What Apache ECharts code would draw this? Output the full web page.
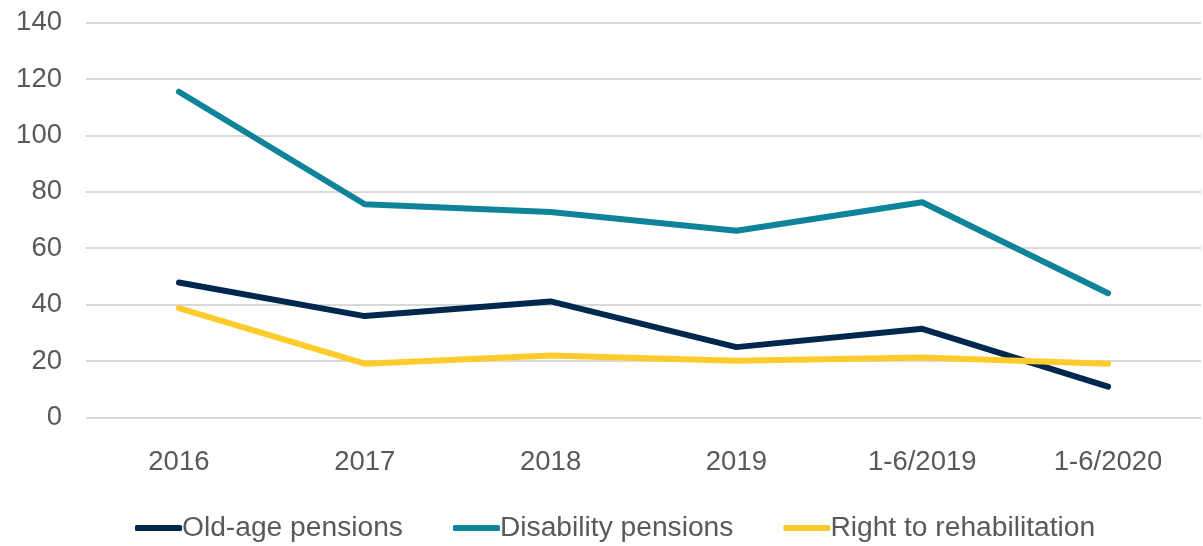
<!DOCTYPE html>
<html>
<head>
<meta charset="utf-8">
<script src="https://cdn.jsdelivr.net/npm/echarts@6/dist/echarts.min.js"></script>
<style>html,body{margin:0;padding:0;background:#fff;}#c{width:1203px;height:546px;}</style>
</head>
<body>
<div id="c"></div>
<script>
const categories = ['2016', '2017', '2018', '2019', '1-6/2019', '1-6/2020'];
const oldAge = [47.8, 35.9, 41.1, 24.9, 31.4, 10.9];
const disability = [115.5, 75.6, 72.8, 66.2, 76.3, 44.0];
const rehabilitation = [38.7, 19.0, 21.9, 20.1, 21.2, 19.0];
const yTicks = { min: 0, max: 140, interval: 20 };

const FONT = '"Liberation Sans Narrow", "Arial Narrow", "Liberation Sans", Arial, sans-serif';
const FS = 27.5;
const chart = echarts.init(document.getElementById('c'), null, { renderer: 'canvas' });
function line(name, data, color) {
  return {
    name: name, type: 'line', data: data, symbol: 'none',
    lineStyle: { color: color, width: 6, cap: 'round', join: 'round' },
    itemStyle: { color: color },
    animation: false
  };
}
chart.setOption({
  animation: false,
  grid: { left: 86, right: 2, top: 22.7, bottom: 128.7, containLabel: false },
  legend: {
    left: 135, top: 514, padding: 0,
    itemWidth: 47, itemHeight: 6, itemGap: 50,
    icon: 'roundRect',
    textStyle: { fontFamily: FONT, fontSize: 28.2, color: '#595959', padding: [0, 0, 0, -5] },
    data: ['Old-age pensions', 'Disability pensions', 'Right to rehabilitation']
  },
  xAxis: {
    type: 'category', data: categories, boundaryGap: true,
    axisLine: { show: false }, axisTick: { show: false },
    axisLabel: { fontFamily: FONT, fontSize: FS, color: '#595959', margin: 31 }
  },
  yAxis: {
    type: 'value', min: yTicks.min, max: yTicks.max, interval: yTicks.interval,
    axisLine: { show: false }, axisTick: { show: false },
    splitLine: { lineStyle: { color: '#d9d9d9', width: 2 } },
    axisLabel: { fontFamily: FONT, fontSize: FS, color: '#595959', margin: 24 }
  },
  series: [
    line('Old-age pensions', oldAge, '#00284f'),
    line('Disability pensions', disability, '#0f8399'),
    line('Right to rehabilitation', rehabilitation, '#fdcb2c')
  ]
});
</script>
</body>
</html>
